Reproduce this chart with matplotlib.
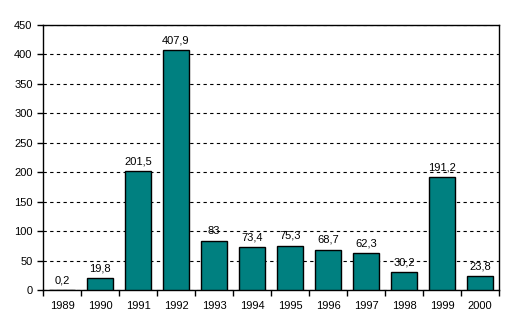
import numpy as np
import matplotlib.pyplot as plt

years = ['1989', '1990', '1991', '1992', '1993', '1994', '1995', '1996',
         '1997', '1998', '1999', '2000']
values = [0.2, 19.8, 201.5, 407.9, 83, 73.4, 75.3, 68.7, 62.3, 30.2, 191.2, 23.8]

bar_color = '#008080'

plt.rcParams['font.family'] = ['Liberation Sans', 'DejaVu Sans']

fig = plt.figure(figsize=(5.14, 3.32), dpi=100, facecolor='white')
ax = fig.add_axes([43 / 514, 42 / 332, 456 / 514, 265 / 332])

x = np.arange(len(years))
ax.bar(x, values, width=0.7, color=bar_color, edgecolor='black', linewidth=1, zorder=3)

# value labels, finnish style decimal comma
for xi, v in zip(x, values):
    txt = f'{v:g}'.replace('.', ',')
    ax.text(xi, v + 8, txt, ha='center', va='bottom', fontsize=8, zorder=4)

ax.set_xlim(-0.5, len(years) - 0.5)
ax.set_ylim(0, 450)
ax.set_yticks(range(0, 451, 50))
ax.yaxis.grid(True, linestyle=(0, (3, 3)), color='black', linewidth=0.8)
ax.set_axisbelow(True)

# category labels centred, ticks on category boundaries
ax.set_xticks(x)
ax.set_xticklabels(years)
ax.set_xticks(np.arange(-0.5, len(years)), minor=True)
ax.tick_params(axis='x', which='major', length=0, pad=8, labelsize=8)
ax.tick_params(axis='x', which='minor', length=4, direction='out', width=1)
ax.tick_params(axis='y', length=4, direction='out', width=1, labelsize=8)

for s in ax.spines.values():
    s.set_color('black')
    s.set_linewidth(1)

fig.savefig('out.png', dpi=100)
